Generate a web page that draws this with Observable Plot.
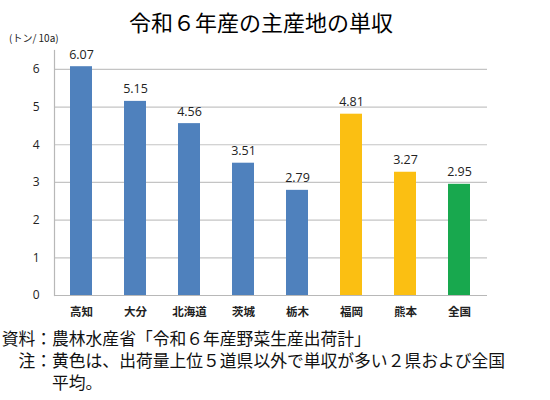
<!DOCTYPE html>
<html>
<head>
<meta charset="utf-8">
<script src="https://cdn.jsdelivr.net/npm/d3@7"></script>
<script src="https://cdn.jsdelivr.net/npm/@observablehq/plot@0.6"></script>
<style>
  body { margin:0; width:550px; height:400px; position:relative; background:#fff;
         font-family:"Noto Sans CJK JP","Noto Sans",sans-serif; color:#000; overflow:hidden; }
  #title { height:30px; padding-top:6px; line-height:30px; font-size:22px; text-align:center;
           padding-right:28px; }
  #unit { position:absolute; left:9px; top:30px; font-size:10px; color:#222; }
  #chart svg { display:block; }
  #caption { position:absolute; left:0; top:327px; font-size:16.8px; line-height:22px; color:#111; }
  .row { display:flex; white-space:nowrap; }
  .lab { width:52px; text-align:right; flex:none; }
</style>
</head>
<body>
<div id="title">令和６年産の主産地の単収</div>
<div id="unit">(トン/ 10a)</div>
<div id="chart"></div>
<div id="caption">
  <div class="row"><span class="lab">資料：</span><span>農林水産省「令和６年産野菜生産出荷計」</span></div>
  <div class="row"><span class="lab">注：</span><span>黄色は、出荷量上位５道県以外で単収が多い２県および全国<br>平均。</span></div>
</div>
<script>
const prefectures = ["高知", "大分", "北海道", "茨城", "栃木", "福岡", "熊本", "全国"];
const yields = [6.07, 5.15, 4.56, 3.51, 2.79, 4.81, 3.27, 2.95];
const groups = ["上位", "上位", "上位", "上位", "上位", "その他", "その他", "全国"];
const groupNames = ["上位", "その他", "全国"];
const groupColors = ["#4F81BD", "#FBBF12", "#18A84E"];
const yTicks = [0, 1, 2, 3, 4, 5, 6];

const data = prefectures.map((p, i) => ({pref: p, value: yields[i], group: groups[i]}));

const chart = Plot.plot({
  width: 550,
  height: 289,
  marginTop: 14,
  marginBottom: 30,
  marginLeft: 54,
  marginRight: 63,
  style: {fontFamily: "'Noto Sans CJK JP', 'Noto Sans', sans-serif", background: "#fff"},
  x: {domain: prefectures, paddingInner: 0.59, paddingOuter: 0.295, label: null},
  y: {domain: [0, 6.5], label: null},
  color: {domain: groupNames, range: groupColors},
  marks: [
    Plot.ruleY(yTicks.filter(d => d > 0), {stroke: "#c4c4c4", strokeWidth: 1.2}),
    Plot.barY(data, {x: "pref", y: "value", fill: "group"}),
    Plot.ruleY([0], {stroke: "#b8b8b8", strokeWidth: 1.2}),
    Plot.frame({anchor: "left", stroke: "#b8b8b8", strokeWidth: 1.2}),
    Plot.text(data, {x: "pref", y: "value", text: d => d.value.toFixed(2), dy: -12,
      fontSize: 12.5, fill: "#222", fontFamily: "'Open Sans', sans-serif"}),
    Plot.axisY({ticks: yTicks, tickSize: 0, tickPadding: 15, fontSize: 12, fill: "#222",
      tickFormat: d => String(d), fontFamily: "'Open Sans', sans-serif", label: null}),
    Plot.axisX({tickSize: 0, tickPadding: 12, fontSize: 11.5, fontWeight: "bold", fill: "#222", label: null})
  ]
});
document.getElementById("chart").appendChild(chart);
</script>
</body>
</html>
